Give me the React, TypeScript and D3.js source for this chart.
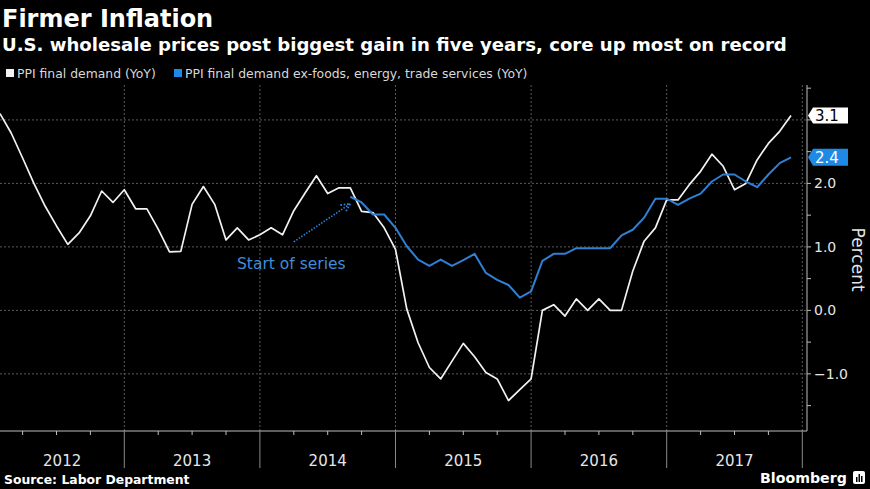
import React from "react";
import * as d3 from "d3";

const W = 870;
const H = 489;

// Monthly YoY values, Jan 2012 (index 0) through Nov 2017 (index 70)
const ppiFinalDemand: number[] = [
  3.1, 2.79, 2.4, 2.0, 1.64, 1.33, 1.04, 1.22, 1.49, 1.88, 1.7, 1.9,
  1.6, 1.6, 1.28, 0.92, 0.93, 1.67, 1.95, 1.67, 1.11, 1.3, 1.11, 1.19,
  1.3, 1.19, 1.57, 1.85, 2.12, 1.84, 1.93, 1.93, 1.56, 1.54, 1.3, 0.96,
  0.02, -0.51, -0.9, -1.08, -0.8, -0.52, -0.73, -0.98, -1.08, -1.42, -1.25, -1.08,
  0.0, 0.09, -0.09, 0.18, 0.0, 0.18, 0.0, 0.0, 0.62, 1.09, 1.3, 1.74,
  1.74, 1.98, 2.19, 2.46, 2.27, 1.9, 2.0, 2.37, 2.63, 2.82, 3.07,
];

// Core series starts Aug 2014 (index 31)
const coreStartIndex = 31;
const ppiCore: number[] = [
  1.79, 1.7, 1.51, 1.51, 1.3,
  1.01, 0.8, 0.7, 0.8, 0.7, 0.79, 0.89, 0.59, 0.48, 0.4, 0.2, 0.3,
  0.78, 0.89, 0.89, 0.98, 0.98, 0.98, 0.98, 1.18, 1.27, 1.46, 1.76, 1.76,
  1.66, 1.76, 1.84, 2.03, 2.14, 2.14, 2.03, 1.94, 2.14, 2.32, 2.41,
];

const years: string[] = ["2012", "2013", "2014", "2015", "2016", "2017"];
const yGridValues: number[] = [3, 2, 1, 0, -1];
const yTickLabels: number[] = [2, 1, 0, -1];
const yMinorTicks: number[] = [-1.5, -1, -0.5, 0, 0.5, 1, 1.5, 2, 2.5, 3, 3.5];

const titleText = "Firmer Inflation";
const subtitleText =
  "U.S. wholesale prices post biggest gain in five years, core up most on record";
const legendLabels: string[] = [
  "PPI final demand (YoY)",
  "PPI final demand ex-foods, energy, trade services (YoY)",
];
const sourceText = "Source: Labor Department";
const annotationText = "Start of series";
const axisTitle = "Percent";

const WHITE = "#f2f2f2";
const BLUE_LINE = "#2f7fd3";
const BLUE_BOX = "#1f8ae6";
const GRID = "#5a5a5a";
const AXIS = "#bdbdbd";
const TEXT = "#e6e6e6";
const FONT = "'DejaVu Sans', 'Liberation Sans', sans-serif";

export default function App() {
  const plotLeft = 0;
  const plotRight = 807;
  const plotTop = 85;
  const plotBottom = 431;

  const x = d3.scaleLinear().domain([0, 70]).range([0, 791]);
  const y = d3.scaleLinear().domain([-1.9, 3.55]).range([plotBottom, plotTop]);

  const line = d3
    .line<[number, number]>()
    .x((d) => x(d[0]))
    .y((d) => y(d[1]));

  const whitePts: [number, number][] = ppiFinalDemand.map((v, i) => [i, v]);
  const bluePts: [number, number][] = ppiCore.map((v, i) => [i + coreStartIndex, v]);

  // year boundaries fall after each December (index 11 + 12k)
  const yearBounds = years.map((_, k) => 11 + 12 * k);
  const quarterTicks = d3.range(2, 71, 3).filter((i) => (i - 11) % 12 !== 0);

  const lastWhite = ppiFinalDemand[ppiFinalDemand.length - 1];
  const lastBlue = ppiCore[ppiCore.length - 1];

  const tagPath = (cy: number, h: number) => {
    const tipX = plotRight + 1;
    const bx = plotRight + 6;
    const ex = 848;
    return `M${tipX},${cy} L${bx},${cy - h / 2} L${ex},${cy - h / 2} L${ex},${cy + h / 2} L${bx},${cy + h / 2} Z`;
  };

  // annotation arrow anchored in data space
  const arrowFrom: [number, number] = [26, 1.08];
  const arrowTo: [number, number] = [31, 1.68];

  return (
    <svg
      width={W}
      height={H}
      style={{ position: "absolute", left: 0, top: 0, background: "#000" }}
      fontFamily={FONT}
    >
      <defs>
        <marker
          id="arrowhead"
          viewBox="0 0 10 10"
          refX="9"
          refY="5"
          markerWidth="7"
          markerHeight="7"
          orient="auto"
        >
          <path d="M1,1 L9,5 L1,9" fill="none" stroke={BLUE_LINE} strokeWidth="1.6" strokeDasharray="1.5,1.5" />
        </marker>
        <clipPath id="plotclip">
          <rect x={plotLeft} y={plotTop} width={plotRight - plotLeft} height={plotBottom - plotTop} />
        </clipPath>
      </defs>
      <rect x={0} y={0} width={W} height={H} fill="#000" />

      {/* Titles */}
      <text x={2} y={27} fill="#fff" fontSize={24} fontWeight="bold">
        {titleText}
      </text>
      <text x={2} y={51} fill="#fff" fontSize={18.1} fontWeight="bold">
        {subtitleText}
      </text>

      {/* Legend */}
      <rect x={6} y={69} width={8} height={8} fill={WHITE} />
      <text x={17} y={78} fill="#d8d8d8" fontSize={12.4}>
        {legendLabels[0]}
      </text>
      <rect x={174} y={69} width={8} height={8} fill={BLUE_BOX} />
      <text x={185} y={78} fill="#d8d8d8" fontSize={12.4}>
        {legendLabels[1]}
      </text>

      {/* Horizontal gridlines */}
      {yGridValues.map((v) => (
        <line
          key={"hg" + v}
          x1={plotLeft}
          x2={plotRight}
          y1={y(v)}
          y2={y(v)}
          stroke={GRID}
          strokeWidth={1}
          strokeDasharray="2,2"
        />
      ))}
      {/* Vertical year gridlines */}
      {yearBounds.map((b) => (
        <line
          key={"vg" + b}
          x1={x(b)}
          x2={x(b)}
          y1={plotTop}
          y2={plotBottom}
          stroke={GRID}
          strokeWidth={1}
          strokeDasharray="2,2"
        />
      ))}

      {/* Series */}
      <g clipPath="url(#plotclip)">
        <path d={line(whitePts) || ""} fill="none" stroke={WHITE} strokeWidth={1.7} strokeLinejoin="round" />
        <path d={line(bluePts) || ""} fill="none" stroke={BLUE_LINE} strokeWidth={2} strokeLinejoin="round" />
      </g>

      {/* Annotation */}
      <line
        x1={x(arrowFrom[0])}
        y1={y(arrowFrom[1])}
        x2={x(arrowTo[0])}
        y2={y(arrowTo[1])}
        stroke={BLUE_LINE}
        strokeWidth={1.6}
        strokeDasharray="1.5,1.5"
        markerEnd="url(#arrowhead)"
      />
      <text x={237} y={269} fill="#3f8ddb" fontSize={15.5}>
        {annotationText}
      </text>

      {/* Bottom axis */}
      <line x1={plotLeft} x2={plotRight} y1={plotBottom} y2={plotBottom} stroke={AXIS} strokeWidth={1} />
      {quarterTicks.map((i) => (
        <line key={"qt" + i} x1={x(i)} x2={x(i)} y1={plotBottom} y2={plotBottom + 4} stroke={AXIS} strokeWidth={1} />
      ))}
      {yearBounds.map((b) => (
        <line key={"ys" + b} x1={x(b)} x2={x(b)} y1={plotBottom} y2={468} stroke="#8a8a8a" strokeWidth={1} />
      ))}
      {years.map((yr, k) => {
        const start = Math.max(plotLeft, x(yearBounds[k] - 12));
        const end = x(yearBounds[k]);
        return (
          <text key={yr} x={(start + end) / 2} y={466} fill={TEXT} fontSize={15}>
            <tspan textAnchor="middle">{yr}</tspan>
          </text>
        );
      })}

      {/* Right axis */}
      <line x1={plotRight} x2={plotRight} y1={plotTop} y2={plotBottom} stroke={AXIS} strokeWidth={1} />
      {yMinorTicks.map((v) => (
        <line key={"yt" + v} x1={plotRight} x2={plotRight + 4} y1={y(v)} y2={y(v)} stroke={AXIS} strokeWidth={1} />
      ))}
      {yTickLabels.map((v) => (
        <text key={"yl" + v} x={plotRight + 7} y={y(v) + 5} fill={TEXT} fontSize={14}>
          {d3.format(".1f")(v)}
        </text>
      ))}
      <text
        transform={`translate(852, ${y(0.8)}) rotate(90)`}
        fill={TEXT}
        fontSize={17}
        textAnchor="middle"
      >
        {axisTitle}
      </text>

      {/* Last-value tags */}
      <path d={tagPath(y(lastWhite), 16)} fill="#fff" />
      <text x={815} y={y(lastWhite) + 5.5} fill="#000" fontSize={15}>
        {d3.format(".1f")(lastWhite)}
      </text>
      <path d={tagPath(y(lastBlue), 17)} fill={BLUE_BOX} />
      <text x={815} y={y(lastBlue) + 5.5} fill="#fff" fontSize={15}>
        {d3.format(".1f")(lastBlue)}
      </text>

      {/* Footer */}
      <text x={4} y={484} fill="#fff" fontSize={12.4} fontWeight="bold">
        {sourceText}
      </text>
      <text x={760} y={483} fill="#fff" fontSize={14.2} fontWeight="bold">
        Bloomberg
      </text>
      <g>
        <rect x={853} y={471} width={12} height={13} rx={2} fill="#fff" />
        <rect x={856} y={477} width={1.5} height={5} fill="#000" />
        <rect x={858.5} y={474} width={1.5} height={8} fill="#000" />
        <rect x={861} y={476} width={1.5} height={6} fill="#000" />
      </g>
    </svg>
  );
}
